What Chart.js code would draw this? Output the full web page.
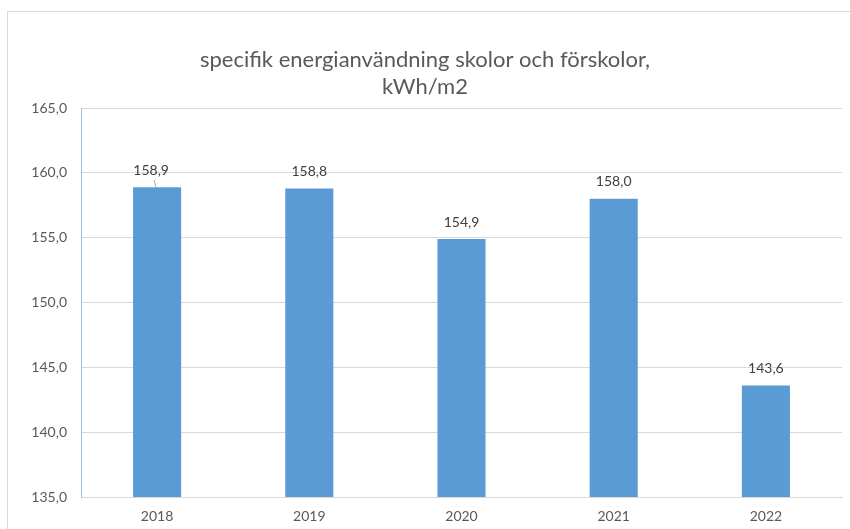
<!DOCTYPE html>
<html lang="sv">
<head>
<meta charset="utf-8">
<title>specifik energianvändning skolor och förskolor</title>
<script src="https://cdn.jsdelivr.net/npm/chart.js@4/dist/chart.umd.min.js"></script>
<style>
    html, body { margin: 0; padding: 0; background: #fff; overflow: hidden; }
    #frame {
        position: absolute; left: 7px; top: 11px;
        width: 900px; height: 600px;
        border: 1px solid #d9d9d9;
    }
    #wrap { position: absolute; left: 0; top: 0; width: 850px; height: 529px; }
</style>
</head>
<body>
<div id="frame"></div>
<div id="wrap"><canvas id="energyChart" width="850" height="529"></canvas></div>
<script>
// ============ 数据 ============
const years = ['2018', '2019', '2020', '2021', '2022'];
const energyValues = [158.9, 158.8, 154.9, 158.0, 143.6];
const titleLines = ['specifik energianvändning skolor och förskolor,', 'kWh/m2'];
const yMin = 135;
const yMax = 165;
const yStep = 5;

const FONT = 'Lato, "Liberation Sans", sans-serif';
const BAR_COLOR = '#5b9bd5';
const TEXT_COLOR = '#595959';
const GRID_COLOR = '#d9d9d9';

const fmt = v => Number(v).toFixed(1).replace('.', ',');

// 柱顶数值标签（带可选引线）
const valueLabels = {
    id: 'valueLabels',
    afterDatasetsDraw(chart, args, opts) {
        const { ctx } = chart;
        const meta = chart.getDatasetMeta(0);
        ctx.save();
        ctx.font = `14px ${FONT}`;
        ctx.fillStyle = '#404040';
        ctx.textAlign = 'center';
        ctx.textBaseline = 'middle';
        meta.data.forEach((bar, i) => {
            const shift = (opts.shiftX && opts.shiftX[i]) || 0;
            const lx = bar.x + shift;
            const ly = bar.y - opts.offset;
            ctx.fillText(fmt(chart.data.datasets[0].data[i]), lx, ly);
            if (shift) {
                ctx.strokeStyle = '#a6a6a6';
                ctx.lineWidth = 1;
                ctx.beginPath();
                ctx.moveTo(lx + 3, ly + 10);
                ctx.lineTo(lx + 5, bar.y);
                ctx.stroke();
            }
        });
        ctx.restore();
    }
};

new Chart(document.getElementById('energyChart'), {
    type: 'bar',
    data: {
        labels: years,
        datasets: [{
            data: energyValues,
            backgroundColor: BAR_COLOR,
            borderWidth: 0,
            categoryPercentage: 1,
            barPercentage: 0.316
        }]
    },
    options: {
        responsive: false,
        animation: false,
        layout: { padding: { left: 8, right: 8, top: 0, bottom: 0 } },
        plugins: {
            legend: { display: false },
            tooltip: { enabled: false },
            title: {
                display: true,
                text: titleLines,
                color: TEXT_COLOR,
                font: { family: FONT, size: 22, weight: 'normal', lineHeight: 1.23 },
                padding: { top: 46, bottom: 8 }
            },
            valueLabels: { offset: 17, shiftX: [-6, 0, 0, 0, 0] }
        },
        scales: {
            x: {
                grid: { display: false, drawTicks: false },
                border: { color: GRID_COLOR, width: 1 },
                ticks: { color: TEXT_COLOR, font: { family: FONT, size: 14 }, padding: 11 },
                afterFit(scale) { scale.height = 32; }
            },
            y: {
                min: yMin,
                max: yMax,
                grid: { color: GRID_COLOR, drawTicks: false },
                border: { color: '#9dc3e6', width: 1 },
                ticks: {
                    stepSize: yStep,
                    color: TEXT_COLOR,
                    font: { family: FONT, size: 14 },
                    padding: 14,
                    callback: v => fmt(v)
                },
                afterFit(scale) { scale.width = 73; }
            }
        }
    },
    plugins: [valueLabels]
});
</script>
</body>
</html>
